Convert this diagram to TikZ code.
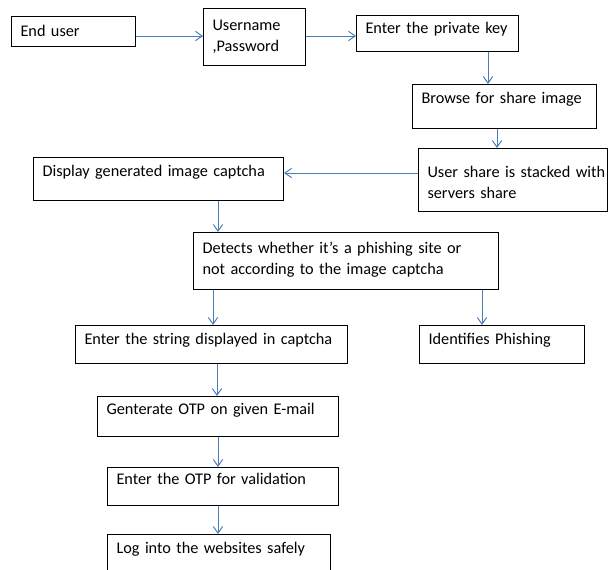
\documentclass[tikz,border=0pt]{standalone}
\usepackage{fontspec}
\setmainfont{Carlito}
\usetikzlibrary{arrows.meta}
\definecolor{flowblue}{RGB}{74,126,187}

\begin{document}
\begin{tikzpicture}[
    x=0.75pt, y=-0.75pt,
    box/.style = {draw, line width=0.8pt, anchor=north west, align=left,
                  inner xsep=6.75pt, inner ysep=5pt, text height=9.25pt,
                  font=\fontsize{12.2}{16}\selectfont},
    >={Straight Barb[length=5pt,width=7pt]}, line width=0.75pt
]
\useasboundingbox (0,0) rectangle (608,569);
\clip (0,0) rectangle (608,569);

% Top row
\node[box, text width=79.5pt, text height=10pt, text depth=2.5pt] (user) at (11,16) {End user};
\node[box, text width=63pt, text height=11.5pt, text depth=21.25pt] (login) at (203,8) {Username\\,Password};
\node[box, text width=108pt, text height=8.5pt, text depth=8.5pt] (key) at (356,15) {Enter the private key};

% Share images
\node[box, text width=124.5pt, text depth=13.75pt] (browse) at (412,84) {Browse for share image};
\node[box, text width=128.25pt, text height=16.75pt, text depth=20.5pt] (stack) at (418,148) {\mbox{User share is stacked with}\\servers share};
\node[box, text width=174pt, text depth=13pt] (captcha) at (33,157) {Display generated image captcha};

% Check
\node[box, text width=215.25pt, text height=10.75pt, text depth=22pt] (detect) at (193,232) {Detects whether it’s a phishing site or\\not according to the image captcha};
\node[box, text width=190.5pt, text depth=9.25pt] (enter) at (75,325) {Enter the string displayed in captcha};
\node[box, text width=110.25pt, text depth=9.25pt] (phish) at (419,325) {Identifies Phishing};

% OTP
\node[box, text width=167.25pt, text height=8.5pt, text depth=11.5pt] (otp) at (97,396) {Genterate OTP on given E-mail};
\node[box, text width=159.75pt, text height=7.75pt, text depth=10.75pt] (valid) at (107,467) {Enter the OTP for validation};
\node[box, text width=153.75pt, text depth=18.25pt] (safe) at (107,534) {Log into the websites safely};

% Edges
\begin{scope}[draw=flowblue, ->]
\draw (user.east |- 0,36) -- (login.west |- 0,36);
\draw (login.east |- 0,36) -- (key.west |- 0,36);
\draw (key.south -| 488,0) -- (browse.north -| 488,0);
\draw (browse.south -| 497,0) -- (stack.north -| 497,0);
\draw (stack.west |- 0,173) -- (captcha.east |- 0,173);
\draw (captcha.south -| 218,0) -- (detect.north -| 218,0);
\draw (detect.south -| 213,0) -- (enter.north -| 213,0);
\draw (detect.south -| 482,0) -- (phish.north -| 482,0);
\draw (enter.south -| 217,0) -- (otp.north -| 217,0);
\draw (otp.south -| 218,0) -- (valid.north -| 218,0);
\draw (valid.south -| 218,0) -- (safe.north -| 218,0);
\end{scope}

\end{tikzpicture}
\end{document}
